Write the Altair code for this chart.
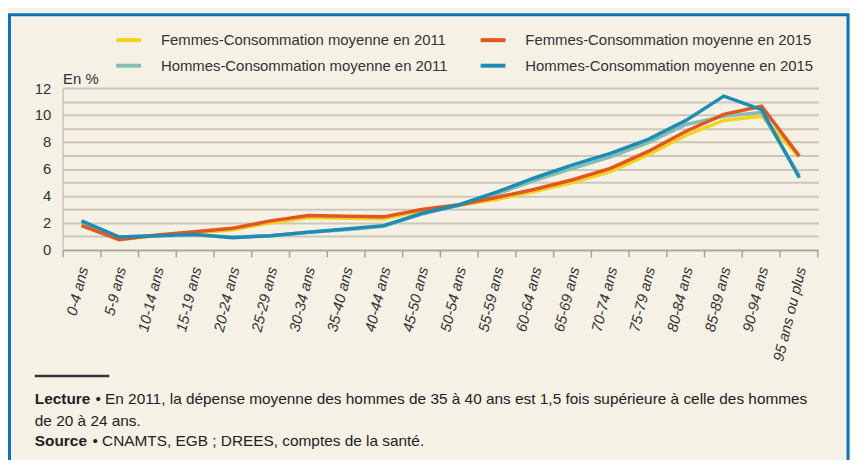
import altair as alt
import pandas as pd

ages = ["0-4 ans", "5-9 ans", "10-14 ans", "15-19 ans", "20-24 ans", "25-29 ans",
        "30-34 ans", "35-40 ans", "40-44 ans", "45-50 ans", "50-54 ans", "55-59 ans",
        "60-64 ans", "65-69 ans", "70-74 ans", "75-79 ans", "80-84 ans", "85-89 ans",
        "90-94 ans", "95 ans ou plus"]

femmes_2011 = [1.85, 0.8, 1.05, 1.25, 1.5, 2.0, 2.4, 2.35, 2.3, 2.9, 3.3, 3.75,
               4.35, 5.0, 5.8, 7.05, 8.5, 9.6, 9.9, 6.9]
femmes_2015 = [1.8, 0.75, 1.1, 1.35, 1.6, 2.15, 2.55, 2.5, 2.45, 3.0, 3.35, 3.9,
               4.5, 5.2, 6.05, 7.3, 8.8, 10.05, 10.65, 6.95]
hommes_2011 = [2.1, 0.95, 1.05, 1.1, 0.95, 1.05, 1.3, 1.5, 1.75, 2.65, 3.3, 4.15,
               5.15, 6.05, 6.9, 7.95, 9.3, 9.9, 10.2, 5.5]
hommes_2015 = [2.15, 0.95, 1.05, 1.15, 0.9, 1.05, 1.3, 1.55, 1.8, 2.7, 3.35, 4.3,
               5.35, 6.3, 7.15, 8.2, 9.6, 11.4, 10.4, 5.35]

# legend fills column by column: F2011, H2011 | F2015, H2015
series_names = ["Femmes-Consommation moyenne en 2011",
                "Hommes-Consommation moyenne en 2011",
                "Femmes-Consommation moyenne en  2015",
                "Hommes-Consommation moyenne en 2015"]
series_colors = ["#f2d31b", "#86bdb3", "#e2561f", "#1d8db5"]
series_values = [femmes_2011, hommes_2011, femmes_2015, hommes_2015]

lecture_bold = "Lecture"
lecture_text = "• En 2011, la dépense moyenne des hommes de 35 à 40 ans est 1,5 fois supérieure à celle des hommes"
lecture_text2 = "de 20 à 24 ans."
source_bold = "Source"
source_text = "• CNAMTS, EGB ; DREES, comptes de la santé."

rows = []
for name, vals in zip(series_names, series_values):
    for a, v in zip(ages, vals):
        rows.append({"age": a, "serie": name, "valeur": v})
df = pd.DataFrame(rows)

FONT = "Liberation Sans"
CREAM = "#f5f1e5"
BLUE = "#0a70c0"
W, H = 761, 163

one = pd.DataFrame({"k": [0]})

frame = alt.Chart(one).mark_rect(fill="transparent", stroke=BLUE, strokeWidth=3).encode(
    x=alt.value(-53.5), x2=alt.value(791), y=alt.value(-73.7), y2=alt.value(400)
)

lines = alt.Chart(df).mark_line(strokeWidth=3.5).encode(
    x=alt.X("age:N", sort=ages, bandPosition=0.5,
            scale=alt.Scale(type="band", paddingInner=0, paddingOuter=0),
            axis=alt.Axis(title=None, bandPosition=1, tickExtra=True, labelOffset=2,
                          labelAngle=-76, labelAlign="right", labelBaseline="middle",
                          labelPadding=10, labelFont=FONT, labelFontSize=15,
                          labelFontStyle="italic", labelColor="#333333",
                          domainColor="#a8a49a", domainWidth=1.5, tickColor="#a8a49a",
                          tickWidth=1.5, tickSize=7, grid=False)),
    y=alt.Y("valeur:Q", scale=alt.Scale(domain=[0, 12], nice=False),
            axis=alt.Axis(title="En %", titleAngle=0, titleX=0, titleY=-5,
                          titleAlign="left", titleBaseline="alphabetic",
                          titleFont=FONT, titleFontSize=15, titleFontWeight="normal",
                          titleColor="#333333",
                          values=list(range(13)),
                          labelExpr="datum.value % 2 == 0 ? datum.label : ''",
                          labelFont=FONT, labelFontSize=15, labelColor="#333333",
                          labelPadding=12, ticks=False,
                          domainColor="#c9c4b7", domainWidth=1.5,
                          grid=True, gridColor="#ccc7ba", gridWidth=2)),
    color=alt.Color("serie:N",
                    scale=alt.Scale(domain=series_names, range=series_colors),
                    legend=alt.Legend(title=None, orient="none", legendX=52, legendY=-63,
                                      columns=2, columnPadding=24, rowPadding=3,
                                      symbolType="stroke", symbolSize=625,
                                      symbolStrokeWidth=4, labelOffset=18,
                                      labelFont=FONT, labelFontSize=15,
                                      labelColor="#333333", labelLimit=400)),
)

rule = alt.Chart(one).mark_rule(color="#333333", strokeWidth=2.5).encode(
    x=alt.value(-28), x2=alt.value(47), y=alt.value(290)
)

def txt(s, x, y, bold=False):
    return alt.Chart(one).mark_text(
        align="left", baseline="middle", font=FONT, fontSize=15.5,
        fontWeight="bold" if bold else "normal", color="#222222"
    ).encode(x=alt.value(x), y=alt.value(y), text=alt.value(s))

notes = (txt(lecture_bold, -28, 313, True) + txt(lecture_text, 33, 313)
         + txt(lecture_text2, -28, 335) + txt(source_bold, -28, 356, True)
         + txt(source_text, 30, 356))

chart = alt.layer(frame, lines, rule, notes).properties(
    width=W, height=H,
    padding={"left": 55, "top": 79, "right": 32, "bottom": 210},
    autosize=alt.AutoSizeParams(type="none"),
    background=CREAM,
).configure_view(stroke=None)

chart.save("out.html", embed_options={"renderer": "svg", "actions": False})
